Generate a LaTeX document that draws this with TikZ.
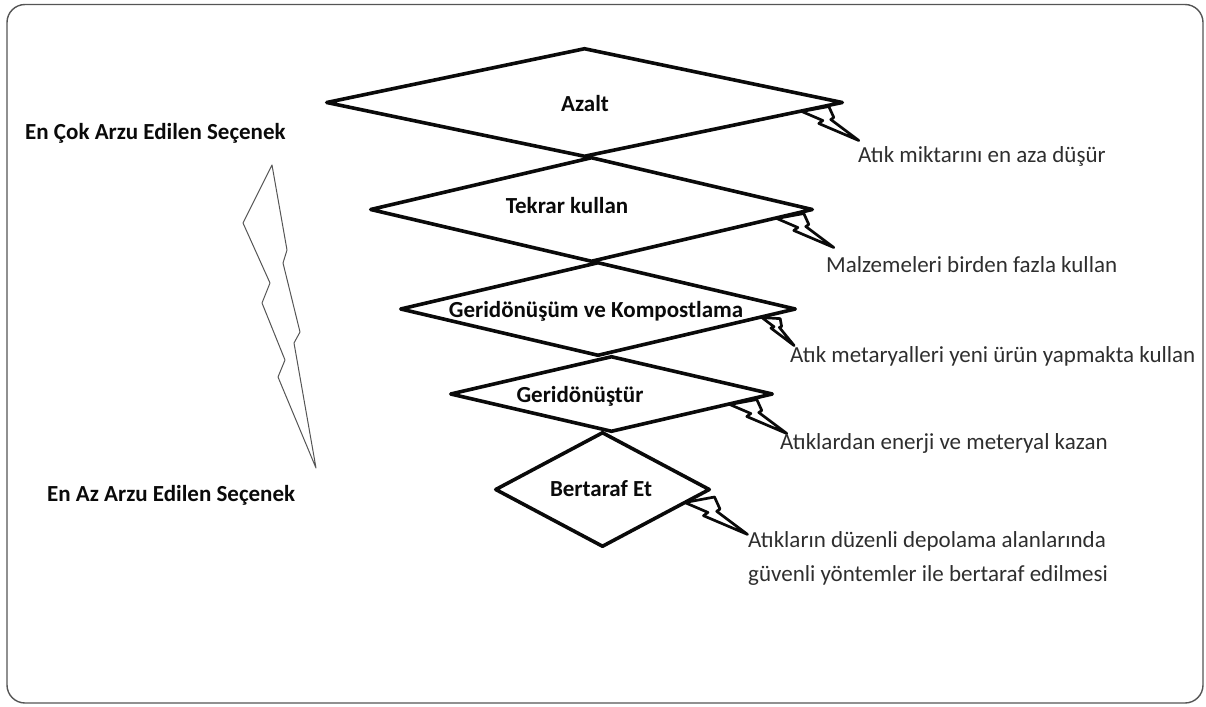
\documentclass[tikz,border=0pt]{standalone}
\usepackage{fontspec}
\setmainfont{Carlito}
\usepackage{xcolor}
\usepackage{tikz}
\usetikzlibrary{calc,shapes.geometric}
\definecolor{ink}{HTML}{0A0A0A}
\definecolor{soft}{HTML}{2E2E2E}
\definecolor{frame}{HTML}{555555}
\tikzset{
  dia/.style={diamond, draw=ink, line width=3.6pt, line join=round, inner sep=0pt, fill=white},
  boltline/.style={draw=ink, fill=white, line width=2.7pt, line join=round},
  zap/.style={draw=frame, line width=1pt, line join=round},
  lab/.style={text=soft, font=\fontsize{23}{34}\selectfont, inner sep=0pt},
  labb/.style={text=ink, font=\fontsize{23}{28}\selectfont\bfseries, inner sep=0pt},
  bolt/.pic={
    \path[boltline] (0,0) -- (27,-5) -- (32,6) -- (29,8) -- (57,29) -- (17,12) -- (21,9) -- cycle;
  },
}
\begin{document}
\begin{tikzpicture}[x=1pt,y=-1pt]
  \useasboundingbox (0,0) rectangle (1206,706);
  \draw[frame, line width=1.4pt, rounded corners=18pt] (7,4.5) rectangle (1203,703);

  % diamonds, bottom first
  \node[dia, minimum width=215, minimum height=115] (bertaraf) at (602.5,489.5) {};
  \node[dia, minimum width=323, minimum height=76] (geri) at (611.5,394) {};
  \node[dia, minimum width=396, minimum height=94] (kompost) at (598,309) {};
  \node[dia, minimum width=443, minimum height=105] (tekrar) at (591.5,209.5) {};
  \node[dia, minimum width=517, minimum height=109] (azalt) at (584.5,102.5) {};

  \pic at ([shift={(-43,9)}]azalt.east) {bolt};
  \pic at ([shift={(-38,9)}]tekrar.east) {bolt};
  \pic[scale=0.67, rotate=-14] at ([shift={(-36,8.5)}]kompost.east) {bolt};
  \pic at ([shift={(-45,10.5)}]geri.east) {bolt};
  \pic[scale=1.1] at ([shift={(-27,13)}]bertaraf.east) {bolt};

  \node[labb] (azaltT) at (585,104) {Azalt};
  \node[labb] (tekrarT) at (567,206) {Tekrar kullan};
  \node[labb] (kompostT) at (596,311) {Geridönüşüm ve Kompostlama};
  \node[labb] (geriT) at (580,396) {Geridönüştür};
  \node[labb] (bertarafT) at (601,489) {Bertaraf Et};

  \node[lab, anchor=west] (azaltN) at (858,156) {Atık miktarını en aza düşür};
  \node[lab, anchor=west] (tekrarN) at (826,265) {Malzemeleri birden fazla kullan};
  \node[lab, anchor=west] (kompostN) at (790,356) {Atık metaryalleri yeni ürün yapmakta kullan};
  \node[lab, anchor=west] (geriN) at (780,443) {Atıklardan enerji ve meteryal kazan};
  \node[lab, anchor=west, align=left] (bertarafN) at (748,558)
    {Atıkların düzenli depolama alanlarında\\güvenli yöntemler ile bertaraf edilmesi};

  % left scale
  \node[labb, anchor=west] (cok) at (25,133) {En Çok Arzu Edilen Seçenek};
  \node[labb, anchor=west] (az) at (47,495) {En Az Arzu Edilen Seçenek};
  \draw[zap] (272,165) -- (243,223) -- (270,283) -- (262,303) -- (285,360) -- (278,377)
    -- (316,468) -- (294,343) -- (300,332) -- (283,263) -- (287,250) -- cycle;
\end{tikzpicture}
\end{document}
